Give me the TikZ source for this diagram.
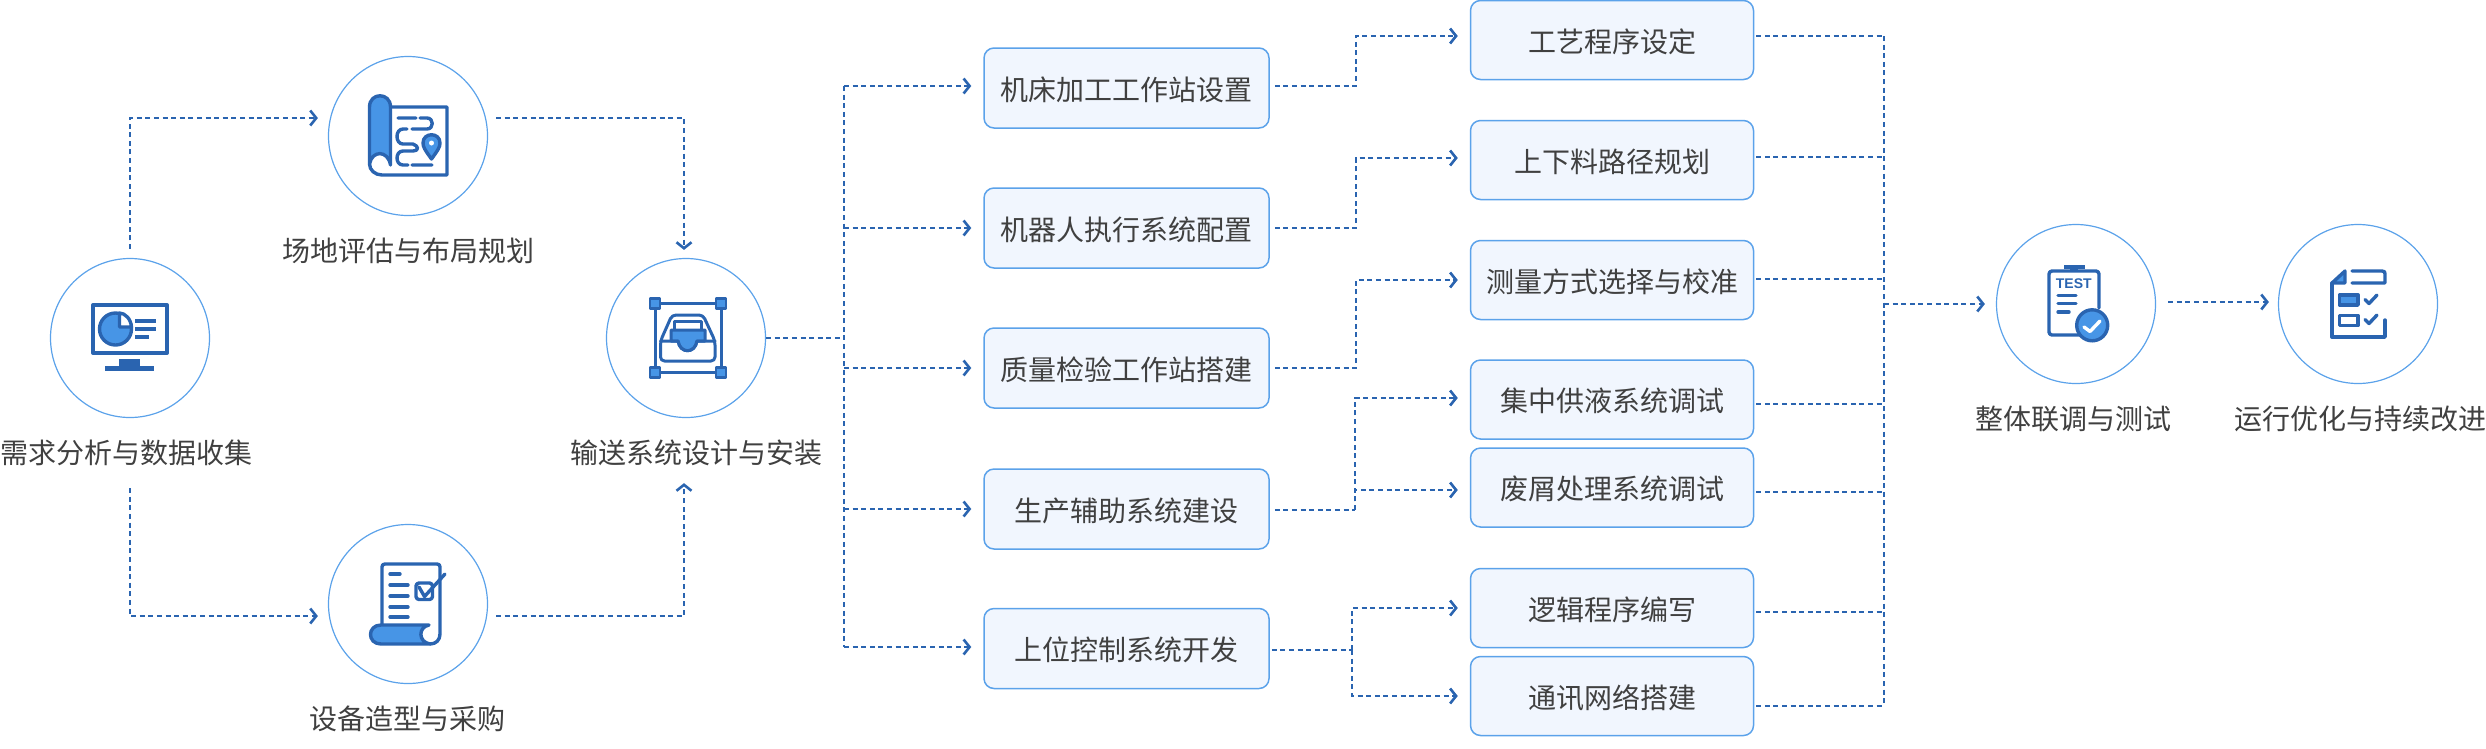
\documentclass[tikz,border=0pt]{standalone}
\usepackage{fontspec}
\setmainfont{Noto Sans CJK SC}
\newfontfamily\testfont{Liberation Sans}
\usetikzlibrary{arrows.meta,calc}
\definecolor{linkblue}{HTML}{2A64B0}
\definecolor{ringblue}{HTML}{5BA2EA}
\definecolor{boxfill}{HTML}{F1F6FE}
\definecolor{iconlight}{HTML}{4795E6}
\definecolor{labelgray}{HTML}{404040}
\tikzstyle{stage}=[circle,draw=ringblue,line width=1.2pt,minimum size=159pt,inner sep=0pt]
\tikzstyle{task}=[rectangle,draw=ringblue,fill=boxfill,line width=1.5pt,rounded corners=10pt,inner sep=0pt,text=labelgray,font=\fontsize{28}{34}\selectfont,text height=25pt,text depth=0.4pt]
\tikzstyle{mid}=[task,minimum width=285pt,minimum height=80pt]
\tikzstyle{sub}=[task,minimum width=283pt,minimum height=79pt]
\tikzstyle{caption}=[inner sep=0pt,text=labelgray,font=\fontsize{28}{34}\selectfont,node distance=114.5pt]
\tikzstyle{link}=[linkblue,line width=2.4pt,dash pattern=on 5pt off 3.6pt]
\tikzstyle{linkarrow}=[link,-{Straight Barb[length=6pt,width=15pt,line width=2.6pt]},shorten >=12pt]
\tikzstyle{iconline}=[draw=linkblue,line width=3.4pt,line join=round,line cap=round]
\tikzstyle{iconfill}=[iconline,fill=iconlight]
\newcommand{\drawbranches}[2][bus1]{
	\foreach \a/\d in {#2}{
		\coordinate (o) at ([yshift=\d pt]\a.west);
		\draw[linkarrow] (o -| #1) -- (o);
	}
}
\newcommand{\drawfeeds}[2][bus2]{
	\foreach \a/\d in {#2}{
		\coordinate (o) at ([yshift=\d pt]\a.east);
		\draw[link,shorten <=2pt] (o) -- (o -| #1);
	}
}

\begin{document}
\begin{tikzpicture}[x=1pt,y=-1pt]
\useasboundingbox (0,0) rectangle (2486,748);

% stages
\node[stage] (c1) at (130,338) {};
\node[stage] (c2) at (408,136) {};
\node[stage] (c3) at (408,604) {};
\node[stage] (c4) at (686,338) {};
\node[stage] (c5) at (2076,304) {};
\node[stage] (c6) at (2358,304) {};

\node[caption,below of=c1,xshift=-4pt] (l1) {需求分析与数据收集};
\node[caption,below of=c2] (l2) {场地评估与布局规划};
\node[caption,below of=c3,xshift=-1pt] (l3) {设备造型与采购};
\node[caption,below of=c4,xshift=10pt] (l4) {输送系统设计与安装};
\node[caption,below of=c5,xshift=-3pt] (l5) {整体联调与测试};
\node[caption,below of=c6,xshift=2pt] (l6) {运行优化与持续改进};

% middle column
\node[mid] (b1) at (1126.5,88) {机床加工工作站设置};
\node[mid] (b2) at (1126.5,228) {机器人执行系统配置};
\node[mid] (b3) at (1126.5,368) {质量检验工作站搭建};
\node[mid] (b4) at (1126.5,509) {生产辅助系统建设};
\node[mid] (b5) at (1126.5,648.5) {上位控制系统开发};

% right column
\node[sub] (t1) at (1612,40) {工艺程序设定};
\node[sub] (t2) at (1612,160) {上下料路径规划};
\node[sub] (t3) at (1612,280) {测量方式选择与校准};
\node[sub] (t4) at (1612,399.5) {集中供液系统调试};
\node[sub] (t5) at (1612,487.5) {废屑处理系统调试};
\node[sub] (t6) at (1612,608) {逻辑程序编写};
\node[sub] (t7) at (1612,696) {通讯网络搭建};

% left part
\draw[linkarrow,shorten >=10pt,shorten <=9pt] (c1.north) |- ([yshift=18pt]c2.west);
\draw[linkarrow,shorten >=8pt,shorten <=8pt] ([yshift=18pt]c2.east) -| ([xshift=-2pt]c4.north);
\draw[linkarrow,shorten >=10pt,shorten <=70pt] (c1.south) |- ([yshift=-12pt]c3.west);
\draw[linkarrow,shorten >=65pt,shorten <=8pt] ([yshift=-12pt]c3.east) -| ([xshift=-2pt]c4.south);

% trunk to the middle column
\coordinate (bus1) at (844,338);
\coordinate (bus1a) at (844,86);
\coordinate (bus1b) at (844,647);
\draw[link] (c4.east) -- (bus1);
\draw[link] (bus1a) -- (bus1b);
\drawbranches{b1/2,b2/0,b3/0,b4/0,b5/1.5}

% middle to right
\draw[linkarrow,shorten <=5pt] ([yshift=2pt]b1.east) -- ++(86,0) |- ([yshift=4pt]t1.west);
\draw[linkarrow,shorten <=5pt] (b2.east) -- ++(86,0) |- ([yshift=2pt]t2.west);
\draw[linkarrow,shorten <=5pt] (b3.east) -- ++(86,0) |- (t3.west);
\coordinate (m4) at (1355,510);
\coordinate (m5) at (1352,650);
\draw[link,shorten <=5pt] ([yshift=-1pt]b4.east) -- (m4);
\draw[linkarrow] (m4) |- ([yshift=1.5pt]t4.west);
\draw[linkarrow] (m4) |- ([yshift=-2.5pt]t5.west);
\draw[link,shorten <=2pt] ([yshift=-1.5pt]b5.east) -- (m5);
\draw[linkarrow] (m5) |- (t6.west);
\draw[linkarrow] (m5) |- (t7.west);

% trunk to the test stage
\coordinate (bus2) at (1884,36);
\coordinate (bus2b) at (1884,706);
\draw[link] (bus2) -- (bus2b);
\drawfeeds{t1/4,t2/3,t3/1,t4/-4.5,t5/-4.5,t6/-4,t7/-10}
\draw[linkarrow,shorten >=11pt] (c5.west -| bus2) -- (c5.west);
\draw[linkarrow,shorten >=9pt,shorten <=12pt] ([yshift=2pt]c5.east) -- ([yshift=2pt]c6.west);

% monitor icon
\draw[iconline,line width=4pt] (93,305) rectangle (167,353);
\fill[linkblue] (119,359) rectangle (140,367);
\fill[linkblue] (105,366) rectangle (154,371);
\draw[iconfill] (115.5,329) circle (16pt);
\draw[iconline,fill=white] (119.5,327) -- (119.5,313) .. controls (125,313) and (131,319) .. (131.5,327) -- cycle;
\draw[iconline,line cap=butt] (135,321) -- (156,321) (135,329) -- (156,329) (135,337) -- (149,337);

% map icon
\draw[iconline] (391,107) -- (447,107) -- (447,175) -- (382,175) .. controls (375,175) and (369.5,170) .. (369.5,164);
\draw[iconfill] (369.5,164) -- (369.5,107) .. controls (369.5,92) and (390.5,92) .. (390.5,107) -- (390.5,165) .. controls (388,150) and (372,150) .. (369.5,164) -- cycle;
\draw[iconline] (398,118) -- (416,118) (420,118) -- (427,118) .. controls (434,118) and (434,129) .. (427,129) -- (412,129) (407,129) -- (403,129) .. controls (395,129) and (395,144) .. (403,144) -- (413,144) .. controls (419,146) and (419,151) .. (413,151) -- (403,151) .. controls (395,151) and (395,165) .. (403,165) -- (408,165) (412,165) -- (432,165);
\draw[iconfill] (431.5,159) .. controls (425,150) and (423,147) .. (423,143) .. controls (423,132) and (440,132) .. (440,143) .. controls (440,147) and (438,150) .. (431.5,159) -- cycle;
\fill[white] (431.5,143) circle (2.5pt);

% list icon
\draw[iconline] (382,624) -- (382,567) .. controls (382,565) and (383,564) .. (385,564) -- (437,564) .. controls (439,564) and (440,565) .. (440,567) -- (440,634) .. controls (440,640) and (436,644) .. (430,644);
\draw[iconfill] (429,625) -- (381,625) .. controls (367,625) and (367,644) .. (381,644) -- (430,644) .. controls (418,642) and (418,627) .. (429,625) -- cycle;
\draw[iconline] (390,574) -- (400,574) (390,585) -- (408,585) (390,596) -- (408,596) (390,607) -- (408,607) (390,617) -- (408,617);
\draw[iconline,rounded corners=3pt] (416,583) rectangle (432.5,599.5);
\draw[iconline] (419,587) -- (424.5,596.5) -- (445,574);

% tray icon
\draw[iconline,line width=3pt] (655,303.5) rectangle (721,372.5);
\draw[iconfill,line width=2.5pt] (650,298.5) rectangle (660,308.5);
\draw[iconfill,line width=2.5pt] (716,298.5) rectangle (726,308.5);
\draw[iconfill,line width=2.5pt] (650,367.5) rectangle (660,377.5);
\draw[iconfill,line width=2.5pt] (716,367.5) rectangle (726,377.5);
\draw[iconline,line width=3pt,fill=white,rounded corners=4pt] (660.5,341) -- (672,315) -- (703,315) -- (715,341) -- (715,361) -- (660.5,361) -- cycle;
\draw[iconline,line width=3pt,fill=white] (674.5,330) -- (674.5,321) -- (701.5,321) -- (701.5,330);
\draw[iconfill,line width=3pt] (671,341) -- (671,330) -- (705,330) -- (705,341) -- (697,341) .. controls (695,354) and (680,354) .. (678,341) -- cycle;
\draw[iconline,line width=3pt] (660.5,341) -- (678,341) .. controls (680,354) and (695,354) .. (697,341) -- (715,341);

% test icon
\draw[iconline,rounded corners=3pt] (2085,335) -- (2049,335) -- (2049,271) -- (2099,271) -- (2099,308);
\fill[linkblue] (2063.5,265) rectangle (2084.5,268.5);
\fill[linkblue] (2070,268) rectangle (2078,272);
\node[inner sep=0pt,text=linkblue,font=\testfont\bfseries\fontsize{14}{14}\selectfont] (nt) at (2073.8,284) {TEST};
\draw[iconline] (2058,295.5) -- (2076,295.5) (2058,303.5) -- (2076,303.5) (2058,312) -- (2069,312);
\draw[iconfill] (2092.2,325.3) circle (15.5pt);
\draw[iconline,white] (2084,327) -- (2090,331.5) -- (2100,321);

% checklist icon
\draw[iconline] (2352,271) -- (2382,271) .. controls (2384.5,271) and (2385,272) .. (2385,274) -- (2385,283) -- (2352,283);
\draw[iconline] (2385,320) -- (2385,337) -- (2332,337) -- (2332,283);
\draw[iconfill] (2345,271) -- (2332,283) -- (2345,283) -- cycle;
\draw[iconfill] (2339.5,295) rectangle (2358,305);
\draw[iconline] (2339.5,315.5) rectangle (2358,325.5);
\draw[iconline] (2365,299.5) -- (2369,303.5) -- (2377,295) (2365,319.5) -- (2369,323.5) -- (2377,315);
\end{tikzpicture}
\end{document}
